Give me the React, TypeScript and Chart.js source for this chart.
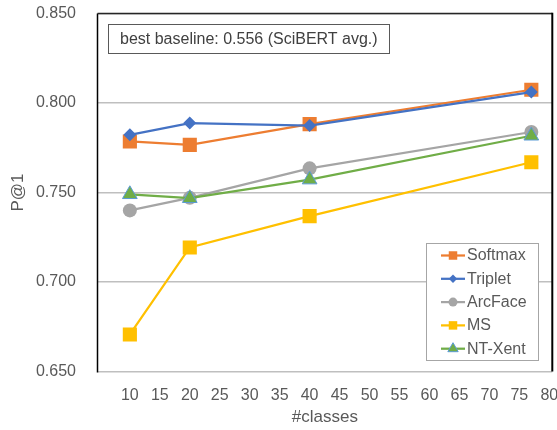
import React, { useEffect, useRef } from "react";
import { Chart, registerables } from "chart.js";

Chart.register(...registerables);

const classCounts = [10, 20, 40, 77];
const softmax = [0.7785, 0.7766, 0.7882, 0.8074];
const triplet = [0.7822, 0.7888, 0.7874, 0.8061];
const arcFace = [0.7400, 0.7470, 0.7635, 0.7838];
const ms = [0.6707, 0.7193, 0.7368, 0.7669];
const ntXent = [0.7490, 0.7468, 0.7572, 0.7817];
const xTicks = [10, 15, 20, 25, 30, 35, 40, 45, 50, 55, 60, 65, 70, 75, 80];
const yTicks = [0.65, 0.7, 0.75, 0.8, 0.85];
const annotationText = "best baseline: 0.556 (SciBERT avg.)";

const FONT = "'Liberation Sans', Arial, sans-serif";

function pts(vals: number[]) {
  return classCounts.map((x, i) => ({ x, y: vals[i] }));
}

function drawMarker(ctx: CanvasRenderingContext2D, style: string, x: number, y: number, r: number, fill: string, stroke: string, bw: number) {
  ctx.save();
  ctx.beginPath();
  if (style === "rect") {
    const s = r * Math.SQRT1_2;
    ctx.rect(x - s, y - s, 2 * s, 2 * s);
  } else if (style === "rectRot") {
    ctx.moveTo(x, y - r);
    ctx.lineTo(x + r, y);
    ctx.lineTo(x, y + r);
    ctx.lineTo(x - r, y);
    ctx.closePath();
  } else if (style === "triangle") {
    for (let k = 0; k < 3; k++) {
      const a = k * (2 * Math.PI / 3);
      const px = x + Math.sin(a) * r;
      const py = y - Math.cos(a) * r;
      if (k === 0) ctx.moveTo(px, py); else ctx.lineTo(px, py);
    }
    ctx.closePath();
  } else {
    ctx.arc(x, y, r, 0, Math.PI * 2);
  }
  ctx.fillStyle = fill;
  ctx.fill();
  if (bw > 0) {
    ctx.lineWidth = bw;
    ctx.strokeStyle = stroke;
    ctx.stroke();
  }
  ctx.restore();
}

const framePlugin = {
  id: "frameAndExtras",
  afterDatasetsDraw(chart: any) {
    const { ctx, chartArea } = chart;
    const { left, right, top, bottom } = chartArea;
    ctx.save();
    ctx.strokeStyle = "#000000";
    ctx.lineWidth = 1.5;
    ctx.beginPath();
    ctx.moveTo(left, bottom + 1);
    ctx.lineTo(left, top);
    ctx.stroke();
    ctx.strokeStyle = "#262626";
    ctx.lineWidth = 1.5;
    ctx.beginPath();
    ctx.moveTo(left, top);
    ctx.lineTo(right, top);
    ctx.stroke();
    ctx.strokeStyle = "#000000";
    ctx.lineWidth = 2;
    ctx.beginPath();
    ctx.moveTo(right, top - 0.75);
    ctx.lineTo(right, bottom);
    ctx.stroke();

    // annotation box
    ctx.fillStyle = "#ffffff";
    ctx.fillRect(108.5, 24.5, 281, 29);
    ctx.strokeStyle = "#595959";
    ctx.lineWidth = 1;
    ctx.strokeRect(108.5, 24.5, 281, 29);
    ctx.fillStyle = "#404040";
    ctx.font = "16px " + FONT;
    ctx.textBaseline = "middle";
    ctx.textAlign = "left";
    ctx.fillText(annotationText, 120, 39.5);

    // legend
    const bx = 426.5, by = 243.5, bw = 112, bh = 117;
    ctx.fillStyle = "#ffffff";
    ctx.fillRect(bx, by, bw, bh);
    ctx.strokeStyle = "#A6A6A6";
    ctx.lineWidth = 1;
    ctx.strokeRect(bx, by, bw, bh);
    const datasets = chart.data.datasets;
    datasets.forEach((ds: any, i: number) => {
      const cy = 255.5 + i * 23.3;
      ctx.strokeStyle = ds.borderColor;
      ctx.lineWidth = 2.25;
      ctx.beginPath();
      ctx.moveTo(441, cy);
      ctx.lineTo(465, cy);
      ctx.stroke();
      const lr = ds.pointStyle === "rect" ? 6 : ds.pointStyle === "rectRot" ? 4.2 : ds.pointStyle === "triangle" ? 6 : 4.5;
      drawMarker(ctx, ds.pointStyle, 453, cy, lr, ds.pointBackgroundColor, ds.pointBorderColor, ds.pointBorderWidth);
      ctx.fillStyle = "#595959";
      ctx.font = "16px " + FONT;
      ctx.textBaseline = "middle";
      ctx.textAlign = "left";
      ctx.fillText(ds.label, 467, cy + 0.5);
    });
    ctx.restore();
  },
};

export default function App() {
  const ref = useRef<HTMLCanvasElement | null>(null);
  useEffect(() => {
    if (!ref.current) return;
    const mk = (label: string, vals: number[], color: string, style: string, r: number, order: number, border?: string) => ({
      label,
      data: pts(vals),
      borderColor: color,
      backgroundColor: color,
      borderWidth: 2.25,
      pointStyle: style,
      pointRadius: r,
      pointHoverRadius: r,
      pointBackgroundColor: color,
      pointBorderColor: border || color,
      pointBorderWidth: border ? 1 : 0,
      order,
      tension: 0,
    });
    const chart = new Chart(ref.current, {
      type: "line",
      data: {
        datasets: [
          mk("Softmax", softmax, "#ED7D31", "rect", 10, 5),
          mk("Triplet", triplet, "#4472C4", "rectRot", 6.5, 4),
          mk("ArcFace", arcFace, "#A5A5A5", "circle", 7, 3),
          mk("MS", ms, "#FFC000", "rect", 10, 2),
          mk("NT-Xent", ntXent, "#70AD47", "triangle", 8.5, 1, "#5B9BD5"),
        ] as any,
      },
      options: {
        animation: false,
        responsive: false,
        layout: { autoPadding: false, padding: { top: 13.5, right: 4.7, left: 0, bottom: 0 } },
        plugins: { legend: { display: false }, tooltip: { enabled: false } },
        scales: {
          x: {
            type: "linear",
            min: 4.6,
            max: 80.5,
            afterBuildTicks: (scale: any) => {
              scale.ticks = xTicks.map((v) => ({ value: v }));
            },
            afterFit: (scale: any) => {
              scale.height = 58.5;
              scale.paddingLeft = 0;
              scale.paddingRight = 0;
            },
            grid: { display: false, drawTicks: false },
            border: { display: false },
            ticks: {
              padding: 14,
              color: "#595959",
              font: { family: FONT, size: 16 },
              maxRotation: 0,
              autoSkip: false,
              callback: (v: any) => String(v),
            },
            title: {
              display: true,
              text: "#classes",
              color: "#595959",
              font: { family: FONT, size: 17 },
              padding: { top: 0, bottom: 2 },
            },
          },
          y: {
            type: "linear",
            min: 0.65,
            max: 0.85,
            afterBuildTicks: (scale: any) => {
              scale.ticks = yTicks.map((v) => ({ value: v }));
            },
            afterFit: (scale: any) => {
              scale.width = 97.5;
              scale.paddingTop = 0;
              scale.paddingBottom = 0;
            },
            grid: { color: "#BFBFBF", lineWidth: 1.5, drawTicks: false },
            border: { display: false },
            ticks: {
              padding: 21.5,
              color: "#595959",
              font: { family: FONT, size: 16 },
              callback: (v: any) => Number(v).toFixed(3),
            },
            title: {
              display: true,
              text: "P@1",
              color: "#595959",
              font: { family: FONT, size: 17 },
              padding: { top: 8, bottom: 0 },
            },
          },
        },
      } as any,
      plugins: [framePlugin],
    });
    return () => chart.destroy();
  }, []);
  return (
    <div style={{ position: "absolute", left: 0, top: 0, width: 557, height: 430, background: "#fff" }}>
      <canvas ref={ref} width={557} height={430} />
    </div>
  );
}
